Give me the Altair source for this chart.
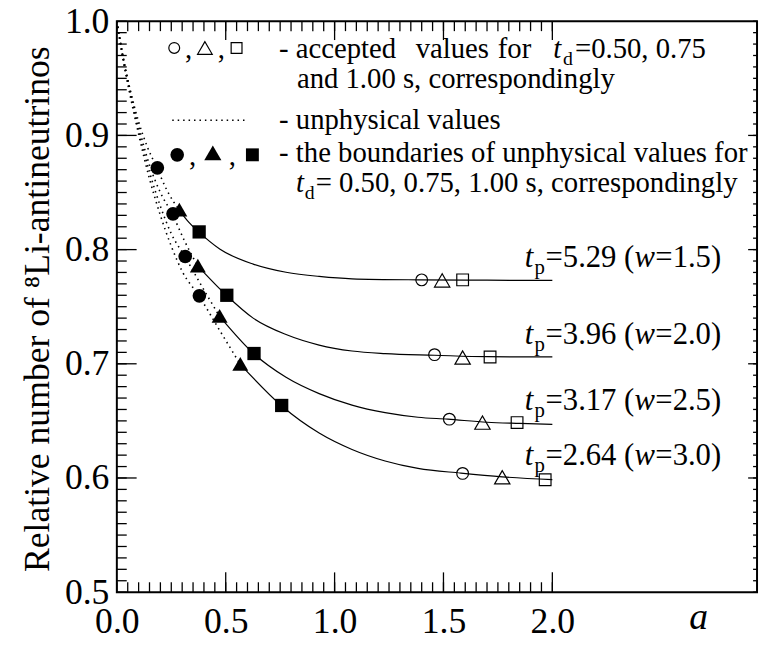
import altair as alt
import pandas as pd

FONT = "Liberation Serif"
OX, OY = 118, 18          # page position of the plot origin
W, H = 647, 577
X_DOMAIN = [0, 2.94]
Y_DOMAIN = [0.5, 1.0]

curve_names = ["w=1.5", "w=2.0", "w=2.5", "w=3.0"]

# solid (physical) parts of the curves
solid1_x = [0.285, 0.33, 0.376, 0.474, 0.626, 0.777, 0.929, 1.08, 1.383, 1.7, 2.0]
solid1_y = [0.835, 0.824, 0.8155, 0.8003, 0.7873, 0.7802, 0.7765, 0.7744, 0.7735, 0.7732, 0.773]
solid2_x = [0.37, 0.503, 0.626, 0.777, 0.929, 1.08, 1.232, 1.459, 1.7, 2.0]
solid2_y = [0.786, 0.760, 0.740, 0.7256, 0.7164, 0.7112, 0.7089, 0.7075, 0.7062, 0.706]
solid3_x = [0.47, 0.628, 0.777, 0.929, 1.08, 1.232, 1.383, 1.52, 1.7, 1.85, 2.0]
solid3_y = [0.742, 0.709, 0.6882, 0.6739, 0.6638, 0.6572, 0.6532, 0.6515, 0.6488, 0.6478, 0.647]
solid4_x = [0.565, 0.755, 0.929, 1.08, 1.232, 1.383, 1.58, 1.77, 2.0]
solid4_y = [0.700, 0.6635, 0.6394, 0.625, 0.6149, 0.6084, 0.6043, 0.6010, 0.5985]

# dotted (unphysical) parts
dot1_x = [0.0, 0.03, 0.06, 0.10, 0.14, 0.183, 0.23, 0.285]
dot1_y = [1.0, 0.968, 0.941, 0.912, 0.890, 0.872, 0.852, 0.835]
dot2_x = [0.0, 0.03, 0.06, 0.10, 0.15, 0.20, 0.255, 0.31, 0.37]
dot2_y = [1.0, 0.967, 0.940, 0.908, 0.874, 0.850, 0.831, 0.808, 0.786]
dot3_x = [0.0, 0.03, 0.06, 0.10, 0.15, 0.20, 0.25, 0.312, 0.39, 0.47]
dot3_y = [1.0, 0.966, 0.938, 0.904, 0.868, 0.838, 0.814, 0.794, 0.768, 0.742]
dot4_x = [0.0, 0.03, 0.06, 0.10, 0.15, 0.20, 0.25, 0.30, 0.377, 0.47, 0.565]
dot4_y = [1.0, 0.965, 0.936, 0.901, 0.862, 0.830, 0.803, 0.781, 0.7595, 0.730, 0.700]

# boundaries of unphysical values (filled markers), t_d = 0.50, 0.75, 1.00
bnd_circle_x = [0.186, 0.258, 0.314, 0.379]
bnd_circle_y = [0.8716, 0.8313, 0.794, 0.7595]
bnd_tri_x = [0.287, 0.372, 0.472, 0.567]
bnd_tri_y = [0.835, 0.786, 0.742, 0.700]
bnd_sq_x = [0.378, 0.505, 0.630, 0.757]
bnd_sq_y = [0.8155, 0.760, 0.709, 0.6635]

# accepted values (open markers)
acc_circle_x = [1.40, 1.459, 1.527, 1.588]
acc_circle_y = [0.7735, 0.708, 0.6515, 0.604]
acc_tri_x = [1.494, 1.588, 1.679, 1.77]
acc_tri_y = [0.773, 0.7055, 0.6485, 0.6006]
acc_sq_x = [1.588, 1.714, 1.838, 1.967]
acc_sq_y = [0.7735, 0.706, 0.6485, 0.5985]

# curve labels
label_tp = ["5.29", "3.96", "3.17", "2.64"]
label_w = ["1.5", "2.0", "2.5", "3.0"]
label_x = [1.855, 1.855, 1.855, 1.855]
label_y = [0.7845, 0.7172, 0.6595, 0.6112]

x_labels = [0.0, 0.5, 1.0, 1.5, 2.0]
y_labels = [0.5, 0.6, 0.7, 0.8, 0.9, 1.0]
x_minor = [round(i * 0.05, 2) for i in range(41)]
y_minor = [round(0.5 + i * 0.01, 2) for i in range(51)]
x_major = [0.5, 1.0, 1.5, 2.0]
y_major = [0.6, 0.7, 0.8, 0.9]

xs = alt.Scale(domain=X_DOMAIN, nice=False, zero=False)
ys = alt.Scale(domain=Y_DOMAIN, nice=False, zero=False)

xaxis = alt.Axis(values=x_labels, format=".1f", ticks=False, domain=False, grid=False,
                 labelFlush=False, labelOverlap=False, labelPadding=13, title=None,
                 labelFont=FONT, labelFontSize=36, labelColor="black")
yaxis = alt.Axis(values=y_labels, format=".1f", ticks=False, domain=False, grid=False,
                 labelFlush=False, labelOverlap=False, labelPadding=8, title=None,
                 labelFont=FONT, labelFontSize=36, labelColor="black")

X = lambda f: alt.X(f, scale=xs, axis=xaxis)
Y = lambda f: alt.Y(f, scale=ys, axis=yaxis)


def frame(xs_list, ys_list, names):
    rows = []
    for xl, yl, n in zip(xs_list, ys_list, names):
        for i, (a, b) in enumerate(zip(xl, yl)):
            rows.append({"curve": n, "a": a, "y": b, "i": i})
    return pd.DataFrame(rows)


solid_df = frame([solid1_x, solid2_x, solid3_x, solid4_x],
                 [solid1_y, solid2_y, solid3_y, solid4_y], curve_names)
dot_df = frame([dot1_x, dot2_x, dot3_x, dot4_x],
               [dot1_y, dot2_y, dot3_y, dot4_y], curve_names)

solid = alt.Chart(solid_df).mark_line(color="black", strokeWidth=1.2, interpolate="monotone").encode(
    x=X("a:Q"), y=Y("y:Q"), detail="curve:N", order="i:Q")
dotted = alt.Chart(dot_df).mark_line(color="black", strokeWidth=1.6, strokeDash=[1.5, 4],
                                     interpolate="monotone").encode(
    x=X("a:Q"), y=Y("y:Q"), detail="curve:N", order="i:Q")


def markers(xl, yl, shape, filled, size):
    df = pd.DataFrame({"a": xl, "y": yl})
    if filled:
        m = alt.Chart(df).mark_point(shape=shape, filled=True, color="black", opacity=1, size=size)
    else:
        m = alt.Chart(df).mark_point(shape=shape, filled=False, color="black", opacity=1,
                                     strokeWidth=1.2, size=size)
    return m.encode(x=X("a:Q"), y=Y("y:Q"))


mk = [
    markers(bnd_circle_x, bnd_circle_y, "circle", True, 190),
    markers(bnd_tri_x, bnd_tri_y, "triangle-up", True, 260),
    markers(bnd_sq_x, bnd_sq_y, "square", True, 180),
    markers(acc_circle_x, acc_circle_y, "circle", False, 140),
    markers(acc_tri_x, acc_tri_y, "triangle-up", False, 240),
    markers(acc_sq_x, acc_sq_y, "square", False, 140),
]


def xticks(vals, y0, y1):
    return alt.Chart(pd.DataFrame({"a": vals})).mark_rule(color="black", strokeWidth=1.3).encode(
        x=X("a:Q"), y=alt.value(y0), y2=alt.value(y1))


def yticks(vals, x0, x1):
    return alt.Chart(pd.DataFrame({"y": vals})).mark_rule(color="black", strokeWidth=1.3).encode(
        y=Y("y:Q"), x=alt.value(x0), x2=alt.value(x1))


ticks = [
    xticks(x_minor, H, H - 10), xticks(x_major, H, H - 20),
    xticks(x_minor, 0, 10), xticks(x_major, 0, 19),
    yticks(y_minor, 0, 10), yticks(y_major, 0, 20),
    yticks(y_minor, W, W - 4), yticks(y_major, W, W - 9),
]

lab_df = pd.DataFrame({"a": label_x, "y": label_y,
                       "tp": ["=" + t + " (" for t in label_tp],
                       "w": ["=" + w + ")" for w in label_w]})


def lab_piece(field=None, text=None, dx=0, dy=0, size=31, italic=False):
    kw = dict(font=FONT, fontSize=size, align="left", baseline="alphabetic", dx=dx, dy=dy, color="black")
    if italic:
        kw["fontStyle"] = "italic"
    m = alt.Chart(lab_df).mark_text(**kw)
    enc = dict(x=X("a:Q"), y=Y("y:Q"))
    if field:
        enc["text"] = alt.Text(field + ":N")
    else:
        enc["text"] = alt.value(text)
    return m.encode(**enc)


lab_layers = [
    lab_piece(text="t", dx=4, italic=True),
    lab_piece(text="p", dx=14, dy=7, size=21),
    lab_piece(field="tp", dx=25),
    lab_piece(text="w", dx=115, italic=True),
    lab_piece(field="w", dx=136),
]

one = pd.DataFrame({"k": [0]})


def ptext(x, y, s, size=29, italic=False, align="left", baseline="alphabetic", angle=0):
    kw = dict(font=FONT, fontSize=size, align=align, baseline=baseline, color="black", text=s)
    if italic:
        kw["fontStyle"] = "italic"
    if angle:
        kw["angle"] = angle
    return alt.Chart(one).mark_text(**kw).encode(x=alt.value(x - OX), y=alt.value(y - OY))


def psym(x, y, shape, filled, size):
    if filled:
        m = alt.Chart(one).mark_point(shape=shape, filled=True, color="black", opacity=1, size=size)
    else:
        m = alt.Chart(one).mark_point(shape=shape, filled=False, color="black", opacity=1,
                                      strokeWidth=1.2, size=size)
    return m.encode(x=alt.value(x - OX), y=alt.value(y - OY))


legend = [
    psym(176, 45, "circle", False, 120), ptext(187, 55, ","),
    psym(207, 45, "triangle-up", False, 220), ptext(220, 55, ","),
    psym(239, 45, "square", False, 120),
    ptext(282, 55, "- accepted"), ptext(420, 55, "values"), ptext(503, 55, "for"),
    ptext(559, 55, "t", italic=True), ptext(569, 62, "d", size=20), ptext(581, 55, "=0.50, 0.75"),
    ptext(300, 85, "and 1.00 s, correspondingly"),
    alt.Chart(one).mark_rule(color="black", strokeWidth=1.6, strokeDash=[1.5, 4]).encode(
        x=alt.value(174 - OX), x2=alt.value(250 - OX), y=alt.value(118 - OY)),
    ptext(282, 127, "- unphysical values"),
    psym(179, 153, "circle", True, 190), ptext(191, 163, ","),
    psym(215, 151, "triangle-up", True, 300), ptext(231, 163, ","),
    psym(255, 153, "square", True, 170),
    ptext(282, 160, "- the boundaries of unphysical values for"),
    ptext(299, 191, "t", italic=True), ptext(308, 198, "d", size=20),
    ptext(319, 191, "= 0.50, 0.75, 1.00 s, correspondingly"),
    ptext(38, 309, "Relative number of \u2078Li-antineutrinos", size=36, align="center",
          baseline="middle", angle=270),
    ptext(706, 632, "a", size=38, italic=True, align="center"),
]

chart = alt.layer(solid, *ticks, dotted, *mk, *lab_layers, *legend).properties(
    width=W, height=H,
    autosize=alt.AutoSizeParams(type="none"),
    padding={"left": OX - 8, "top": OY - 8, "right": 3, "bottom": 48},
).configure_view(stroke="black", strokeWidth=2)

chart.save("out.html", embed_options={"renderer": "svg", "actions": False})
